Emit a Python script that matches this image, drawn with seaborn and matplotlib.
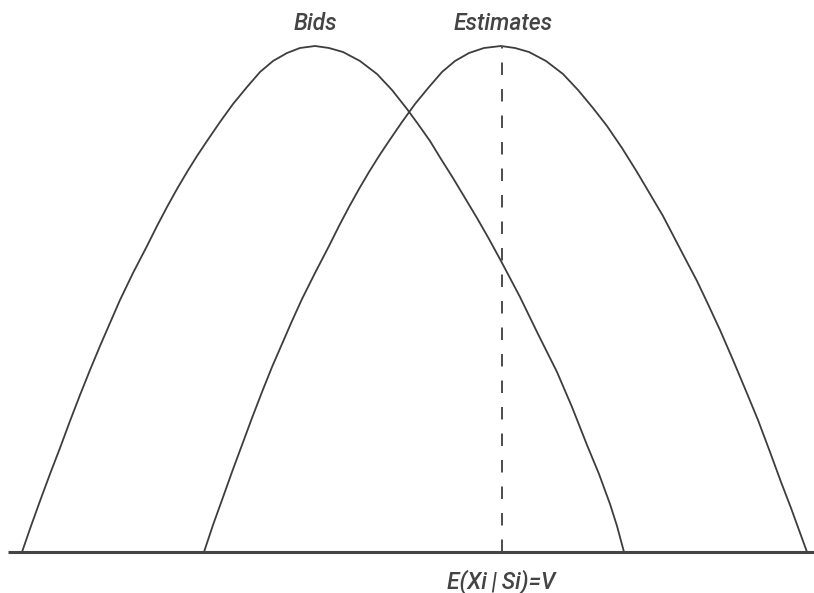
import matplotlib
matplotlib.use("Agg")
import matplotlib.pyplot as plt
import pandas as pd
import seaborn as sns

# values (x along the axis, height above the axis)
bids_x = [22, 31, 40, 50, 60, 70, 80, 90, 100, 110, 120, 133, 147, 157, 167,
          177, 187, 197, 207, 220, 233, 247, 260, 273, 287, 300, 315,
          329, 343, 360, 377, 392, 407, 418, 430, 441, 453, 465, 477, 489,
          501, 510, 520, 538, 557, 572, 587, 599, 610, 617, 624]
bids_h = [0, 26, 51, 78, 104, 131, 157, 182, 206, 229, 252, 279, 306, 326, 345,
          363, 380, 396, 411, 430, 448, 465, 480, 491, 499, 504, 506,
          504, 500, 491, 478, 462, 443, 428, 411, 393, 374, 354, 334, 313,
          291, 274, 255, 218, 180, 145, 107, 78, 48, 26, 0]

est_x = [204, 213, 222, 232, 242, 252, 262, 272, 282, 292, 302, 315, 329, 339,
         349, 359, 369, 379, 389, 402, 415, 429, 442, 455, 469, 484, 501,
         515, 529, 546, 563, 578, 593, 607, 622, 637, 650, 663, 675, 687,
         697, 707, 720, 733, 746, 758, 770, 781, 791, 799, 807]
est_h = [0, 27, 52, 80, 107, 134, 160, 185, 208, 231, 253, 279, 306, 326,
         345, 363, 380, 396, 411, 430, 448, 465, 480, 491, 499, 504, 506,
         504, 500, 491, 478, 462, 444, 426, 404, 380, 358, 336, 313, 290,
         271, 250, 222, 192, 161, 132, 100, 70, 44, 22, 0]

value_x = 501.5          # E(Xi|Si)=V
peak_h = 506
axis_x = [8, 814]

labels = ["Bids", "Estimates"]
label_x = [315, 503]
value_label = "E(Xi\u2009|\u2009Si)=V"

ink = "#3d3d3d"

sns.set_style("white")
plt.rcParams["font.family"] = ["Roboto", "DejaVu Sans"]

bids = pd.DataFrame({"x": bids_x, "h": bids_h})
est = pd.DataFrame({"x": est_x, "h": est_h})
vline = pd.DataFrame({"x": [value_x, value_x], "h": [0, peak_h]})

fig = plt.figure(figsize=(8.14, 5.93), dpi=100)
ax = fig.add_axes([0, 0, 1, 1])

sns.lineplot(data=bids, x="x", y="h", ax=ax, color=ink, lw=1.3,
             estimator=None, sort=False)
sns.lineplot(data=est, x="x", y="h", ax=ax, color=ink, lw=1.3,
             estimator=None, sort=False)
sns.lineplot(data=vline, x="x", y="h", ax=ax, color="#505050", lw=1.44,
             estimator=None, sort=False)
ax.lines[-1].set_dashes((6.25, 7))
for ln in ax.lines[:2]:
    ln.set_solid_joinstyle("round")
ax.plot(axis_x, [0, 0], color="#444444", lw=2.2, solid_capstyle="butt")

for txt, x in zip(labels, label_x):
    ax.text(x, 522, txt, ha="center", va="baseline", fontsize=16.5,
            style="italic", fontweight="medium", color="#444444")
ax.text(value_x, -37, value_label, ha="center", va="baseline", fontsize=16.5,
        style="italic", fontweight="medium", color="#444444")

ax.set_xlim(0, 814)
ax.set_ylim(-41, 552)
ax.axis("off")

fig.savefig("out.png", dpi=100)
